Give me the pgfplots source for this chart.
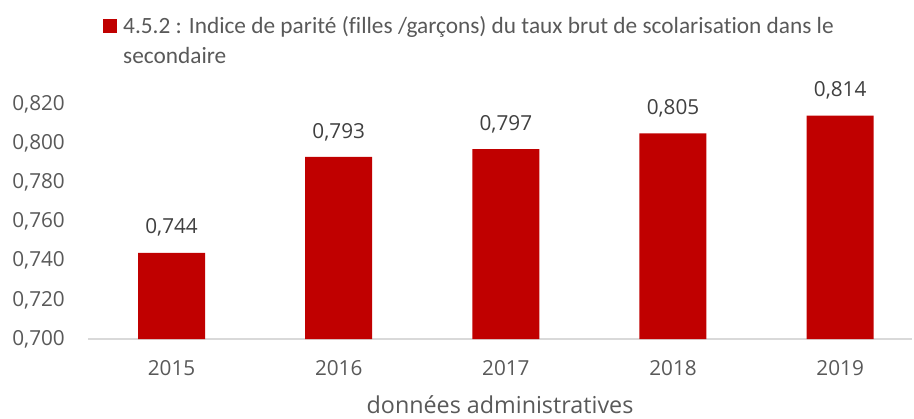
\documentclass[border=0pt]{standalone}
\usepackage{pgfplots}
\pgfplotsset{compat=1.18}
\usepackage{fontspec}
\setmainfont{Open Sans}
\newfontfamily\calibri[Ligatures=NoCommon]{Carlito}
\definecolor{barred}{HTML}{C00000}
\definecolor{ticktext}{HTML}{595959}
\definecolor{labtext}{HTML}{404040}
\definecolor{axgray}{HTML}{D9D9D9}
\newcommand\tickfont{\fontsize{20.8}{24}\selectfont}
\begin{document}
\begin{tikzpicture}
\useasboundingbox (0,0) rectangle (914bp,419bp);
\begin{axis}[
  at={(88bp,80bp)}, anchor=south west,
  scale only axis, width=824bp, height=235bp,
  xmin=-0.5, xmax=4.43,
  ymin=0.7, ymax=0.82,
  ytick={0.70,0.72,0.74,0.76,0.78,0.80,0.82},
  xtick={0,1,2,3,4},
  xticklabels={2015,2016,2017,2018,2019},
  axis lines*=left,
  y axis line style={draw=none},
  x axis line style={draw=axgray, line width=1.2bp, -},
  major tick length=0pt,
  /pgf/number format/assume math mode=true,
  yticklabel style={/pgf/number format/.cd, fixed, fixed zerofill, precision=3, use comma},
  ticklabel style={font=\tickfont, text=ticktext, inner sep=0pt},
  xticklabel shift=21bp,
  yticklabel shift=23bp,
  xlabel={données administratives},
  xlabel style={at={(axis description cs:0.5,0)}, anchor=north, inner sep=0pt, yshift=-56bp, font=\fontsize{23.4}{26}\selectfont, text=ticktext},
  ybar, bar width=67bp,
  nodes near coords,
  nodes near coords style={/pgf/number format/.cd, fixed, fixed zerofill, precision=3, use comma, /tikz/.cd, anchor=south, inner sep=0pt, yshift=16bp, font=\tickfont, text=labtext},
  legend style={at={(0.0182,1.382)}, anchor=north west, draw=none, fill=none, inner sep=0pt, nodes={inner sep=2bp, text=ticktext}, cells={anchor=base west}},
  legend image code/.code={\fill[barred] (0bp,0bp) rectangle (14bp,14bp);},
  clip=false,
]
\addplot[fill=barred, draw=none] coordinates {(0,0.744) (1,0.793) (2,0.797) (3,0.805) (4,0.814)};
\addlegendentry{\parbox[t]{780bp}{\calibri\fontsize{23.4}{30}\selectfont\leavevmode\hspace*{4bp}4.5.2 : Indice de parité (filles /garçons) du taux brut de scolarisation dans le\\\hspace*{4bp}secondaire}}
\end{axis}
\end{tikzpicture}
\end{document}
